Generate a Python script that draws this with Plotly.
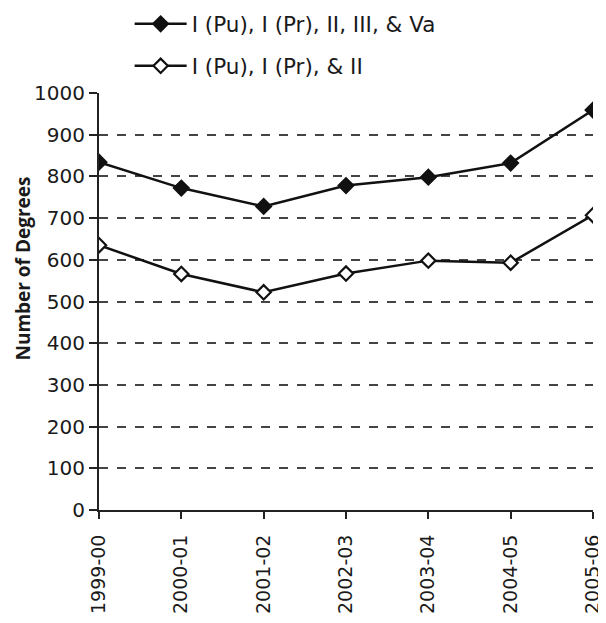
import plotly.graph_objects as go

years = ["1999-00", "2000-01", "2001-02", "2002-03", "2003-04", "2004-05", "2005-06"]
all_groups = [834, 772, 728, 778, 798, 832, 959]
groups_1_2 = [635, 566, 522, 567, 598, 593, 707]
y_ticks = [0, 100, 200, 300, 400, 500, 600, 700, 800, 900, 1000]

FONT = "DejaVu Sans"

fig = go.Figure()
fig.add_trace(go.Scatter(
    x=years, y=all_groups, mode="lines+markers",
    name="I (Pu), I (Pr), II, III, & Va", legendgroup="a",
    line=dict(color="#111111", width=2.5),
    marker=dict(symbol="diamond", size=12, color="#111111",
                line=dict(color="#111111", width=1.5)),
))
fig.add_trace(go.Scatter(
    x=years, y=groups_1_2, mode="lines+markers",
    name="I (Pu), I (Pr), & II", legendgroup="b",
    line=dict(color="#111111", width=2.5),
    marker=dict(symbol="diamond", size=11, color="white",
                line=dict(color="#111111", width=2.2)),
))

fig.update_layout(
    width=598, height=615,
    margin=dict(l=91, r=13, t=85, b=113, autoexpand=False),
    paper_bgcolor="white", plot_bgcolor="white",
    font=dict(family=FONT, size=20, color="#1a1a1a"),
    showlegend=True,
    legend=dict(x=0.062, y=1.215, xanchor="left", yanchor="top",
                orientation="v", tracegroupgap=11, itemwidth=52,
                font=dict(size=21.5, family=FONT),
                bgcolor="rgba(0,0,0,0)"),
    xaxis=dict(
        type="category", range=[0, 6], showgrid=False, automargin=False,
        showline=True, linecolor="#222222", linewidth=2,
        ticks="outside", ticklen=7, tickwidth=2, tickcolor="#222222",
        tickangle=-90, tickfont=dict(size=19, family=FONT),
        ticklabelstandoff=8,
        zeroline=False,
    ),
    yaxis=dict(
        range=[0, 1000], tickvals=y_ticks, automargin=False,
        showgrid=True, gridcolor="#444444", gridwidth=2, griddash="dash",
        showline=True, linecolor="#222222", linewidth=2,
        ticks="outside", ticklen=8, tickwidth=2, tickcolor="#222222",
        tickfont=dict(size=20, family=FONT),
        zeroline=False,
    ),
    annotations=[dict(
        text="<b>Number of Degrees</b>", xref="paper", yref="paper",
        x=-0.153, y=0.58, xanchor="center", yanchor="middle",
        textangle=-90, showarrow=False, borderpad=0,
        font=dict(size=19, family="Open Sans", color="#1a1a1a"),
    )],
)

fig.write_html("out.html")
